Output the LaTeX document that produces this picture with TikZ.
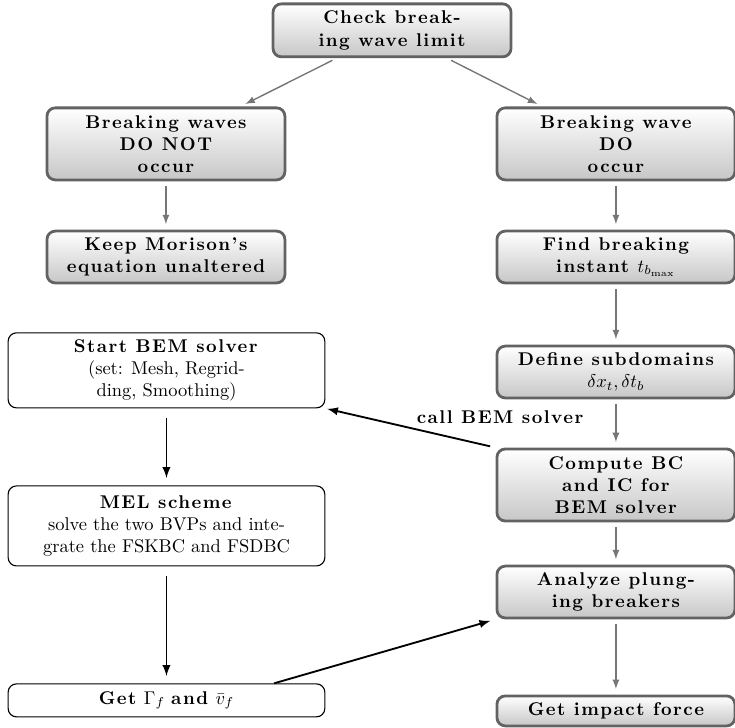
\documentclass[tikz,border=0pt]{standalone}
\usepackage{amsmath}
\usepackage{fontspec}
\setmainfont{Latin Modern Roman}[BoldFeatures={LetterSpace=8}]
\definecolor{boxgray}{RGB}{98,98,98}
\definecolor{arrowgray}{RGB}{118,118,118}
\begin{document}
\begin{tikzpicture}[>=latex,line join=bevel,
    graybox/.style={draw=boxgray,line width=1.5bp,rounded corners=4.5bp,
      top color=white,bottom color=black!22,font=\bfseries,align=center,
      minimum width=128.5bp,inner sep=2bp},
    whitebox/.style={draw,line width=0.6bp,rounded corners=4.5bp,fill=white,
      align=center,minimum width=171bp,inner sep=2bp},
    grayarrow/.style={->,draw=arrowgray,line width=0.75bp,shorten <=2.5bp,shorten >=3bp},
    blackarrow/.style={->,line width=1bp,shorten <=5bp,shorten >=4bp},
  ]
    \useasboundingbox (0bp,0bp) rectangle (396.9bp,393.1bp);
    %%
    \node (1) at (211.7bp,376.7bp) [graybox,minimum height=28.6bp] {Check break-\\ing wave limit};
    \node (2) at (89.6bp,315.4bp) [graybox,minimum height=38.9bp] {Breaking waves\\DO NOT\\occur};
    \node (3) at (89.6bp,254.3bp) [graybox,minimum height=28bp] {Keep Morison's\\equation unaltered};
    \node (4) at (332.6bp,315.4bp) [graybox,minimum height=38.9bp] {Breaking wave\\DO\\occur};
    \node (5) at (332.6bp,254.3bp) [graybox,minimum height=28bp] {Find breaking\\instant $t_{b_{\max}}$};
    \node (6) at (332.6bp,192.2bp) [graybox,minimum height=28bp] {Define subdomains\\$\delta x_t,\delta t_b$};
    \node (7) at (332.6bp,131.2bp) [graybox,minimum height=38.9bp] {Compute BC\\and IC for\\BEM solver};
    \node (8) at (332.6bp,73.4bp) [graybox,minimum height=28bp] {Analyze plung-\\ing breakers};
    \node (9) at (332.6bp,9.2bp) [graybox,minimum height=16.2bp] {Get impact force};
    \node (10) at (89.9bp,193.1bp) [whitebox,minimum height=40.5bp] {\textbf{Start BEM solver}\\(set: Mesh, Regrid-\\ding, Smoothing)};
    \node (11) at (89.9bp,109.1bp) [whitebox,minimum height=43.2bp] {\textbf{MEL scheme}\\solve the two BVPs and inte-\\grate the FSKBC and FSDBC};
    \node (12) at (89.9bp,14.9bp) [whitebox,minimum height=17.8bp] {\textbf{Get} $\Gamma_f$ \textbf{and} $\bar{v}_f$};
    \node (13) at (270bp,167.9bp) [font=\bfseries] {call BEM solver};
    %
    \draw [grayarrow] (1) -- (2);
    \draw [grayarrow] (1) -- (4);
    \draw [grayarrow] (2) -- (3);
    \draw [grayarrow] (4) -- (5);
    \draw [grayarrow] (5) -- (6);
    \draw [grayarrow] (6) -- (7);
    \draw [grayarrow] (7) -- (8);
    \draw [grayarrow] (8) -- (9);
    \draw [blackarrow] (10) -- (11);
    \draw [blackarrow] (11) -- (12);
    \draw [blackarrow,shorten <=3bp,shorten >=1bp] (7.north west) -- (10.south east);
    \draw [blackarrow,shorten <=0bp,shorten >=3bp] (12.9) -- (8.south west);
    %
\end{tikzpicture}
\end{document}
